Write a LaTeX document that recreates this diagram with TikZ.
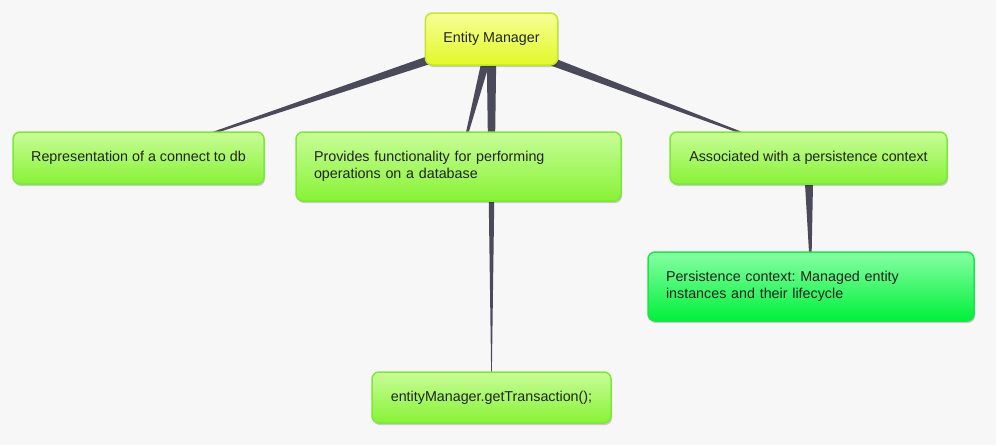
\documentclass[tikz,border=0pt]{standalone}
\usepackage{fontspec}
\setmainfont{Liberation Sans}
\frenchspacing
\usetikzlibrary{calc,shadows,backgrounds}
\definecolor{bgc}{HTML}{F7F7F7}
\definecolor{wedgec}{HTML}{4A4A5A}
\definecolor{txtc}{HTML}{222222}
\definecolor{gtop}{HTML}{C8FD98}
\definecolor{gmid}{HTML}{A8F86A}
\definecolor{gbot}{HTML}{88F236}
\definecolor{gline}{HTML}{7DE83A}
\definecolor{ytop}{HTML}{F6FF96}
\definecolor{ymid}{HTML}{EEFD60}
\definecolor{ybot}{HTML}{E2F828}
\definecolor{yline}{HTML}{C6E42E}
\definecolor{ptop}{HTML}{86FFA4}
\definecolor{pmid}{HTML}{40F870}
\definecolor{pbot}{HTML}{00F03A}
\definecolor{pline}{HTML}{22E24A}
\tikzset{
  box/.style={rounded corners=7pt, line width=1.5pt, draw=gline,
    top color=gtop, middle color=gmid, bottom color=gbot,
    text=txtc, font=\fontsize{14.3}{16.5}\selectfont, align=left,
    inner xsep=18pt, inner ysep=0pt,
    drop shadow={shadow xshift=1pt, shadow yshift=-2pt, opacity=0.18, fill=black}},
  ybox/.style={box, draw=yline, top color=ytop, middle color=ymid, bottom color=ybot, align=center},
  pbox/.style={box, draw=pline, top color=ptop, middle color=pmid, bottom color=pbot},
  wedge/.style={fill=wedgec}
}
\begin{document}
\begin{tikzpicture}[x=1pt,y=-1pt]
\useasboundingbox (0,0) rectangle (996,445);
\node[ybox, minimum width=131pt, minimum height=52pt] (em) at (491.5,39) {Entity Manager};
\node[box, minimum width=251pt, minimum height=52pt] (rep) at (138.5,158) {Representation of a connect to db};
\node[box, text width=289pt, minimum height=69pt] (pro) at (458.5,166.5) {Provides functionality for performing\\operations on a database};
\node[box, minimum width=277pt, minimum height=52pt] (ass) at (808.5,158) {Associated with a persistence context};
\node[pbox, text width=290pt, minimum height=69pt] (per) at (811,286.5) {Persistence context: Managed entity\\instances and their lifecycle};
\node[box, minimum width=239pt, minimum height=51pt] (get) at (491.5,397.5) {entityManager.getTransaction();};
\begin{scope}[on background layer]
\fill[bgc] (0,0) rectangle (996,445);
\fill[wedge] ($(em)!5pt!90:(rep)$) -- ($(em)!5pt!-90:(rep)$) -- (rep.center) -- cycle;
\fill[wedge] ($(em)!5pt!90:(pro)$) -- ($(em)!5pt!-90:(pro)$) -- (pro.center) -- cycle;
\fill[wedge] ($(em)!5pt!90:(ass)$) -- ($(em)!5pt!-90:(ass)$) -- (ass.center) -- cycle;
\fill[wedge] ($(em)!5pt!90:(get)$) -- ($(em)!5pt!-90:(get)$) -- (get.center) -- cycle;
\fill[wedge] ($(ass)!5pt!90:(per)$) -- ($(ass)!5pt!-90:(per)$) -- (per.center) -- cycle;
\end{scope}
\end{tikzpicture}
\end{document}
